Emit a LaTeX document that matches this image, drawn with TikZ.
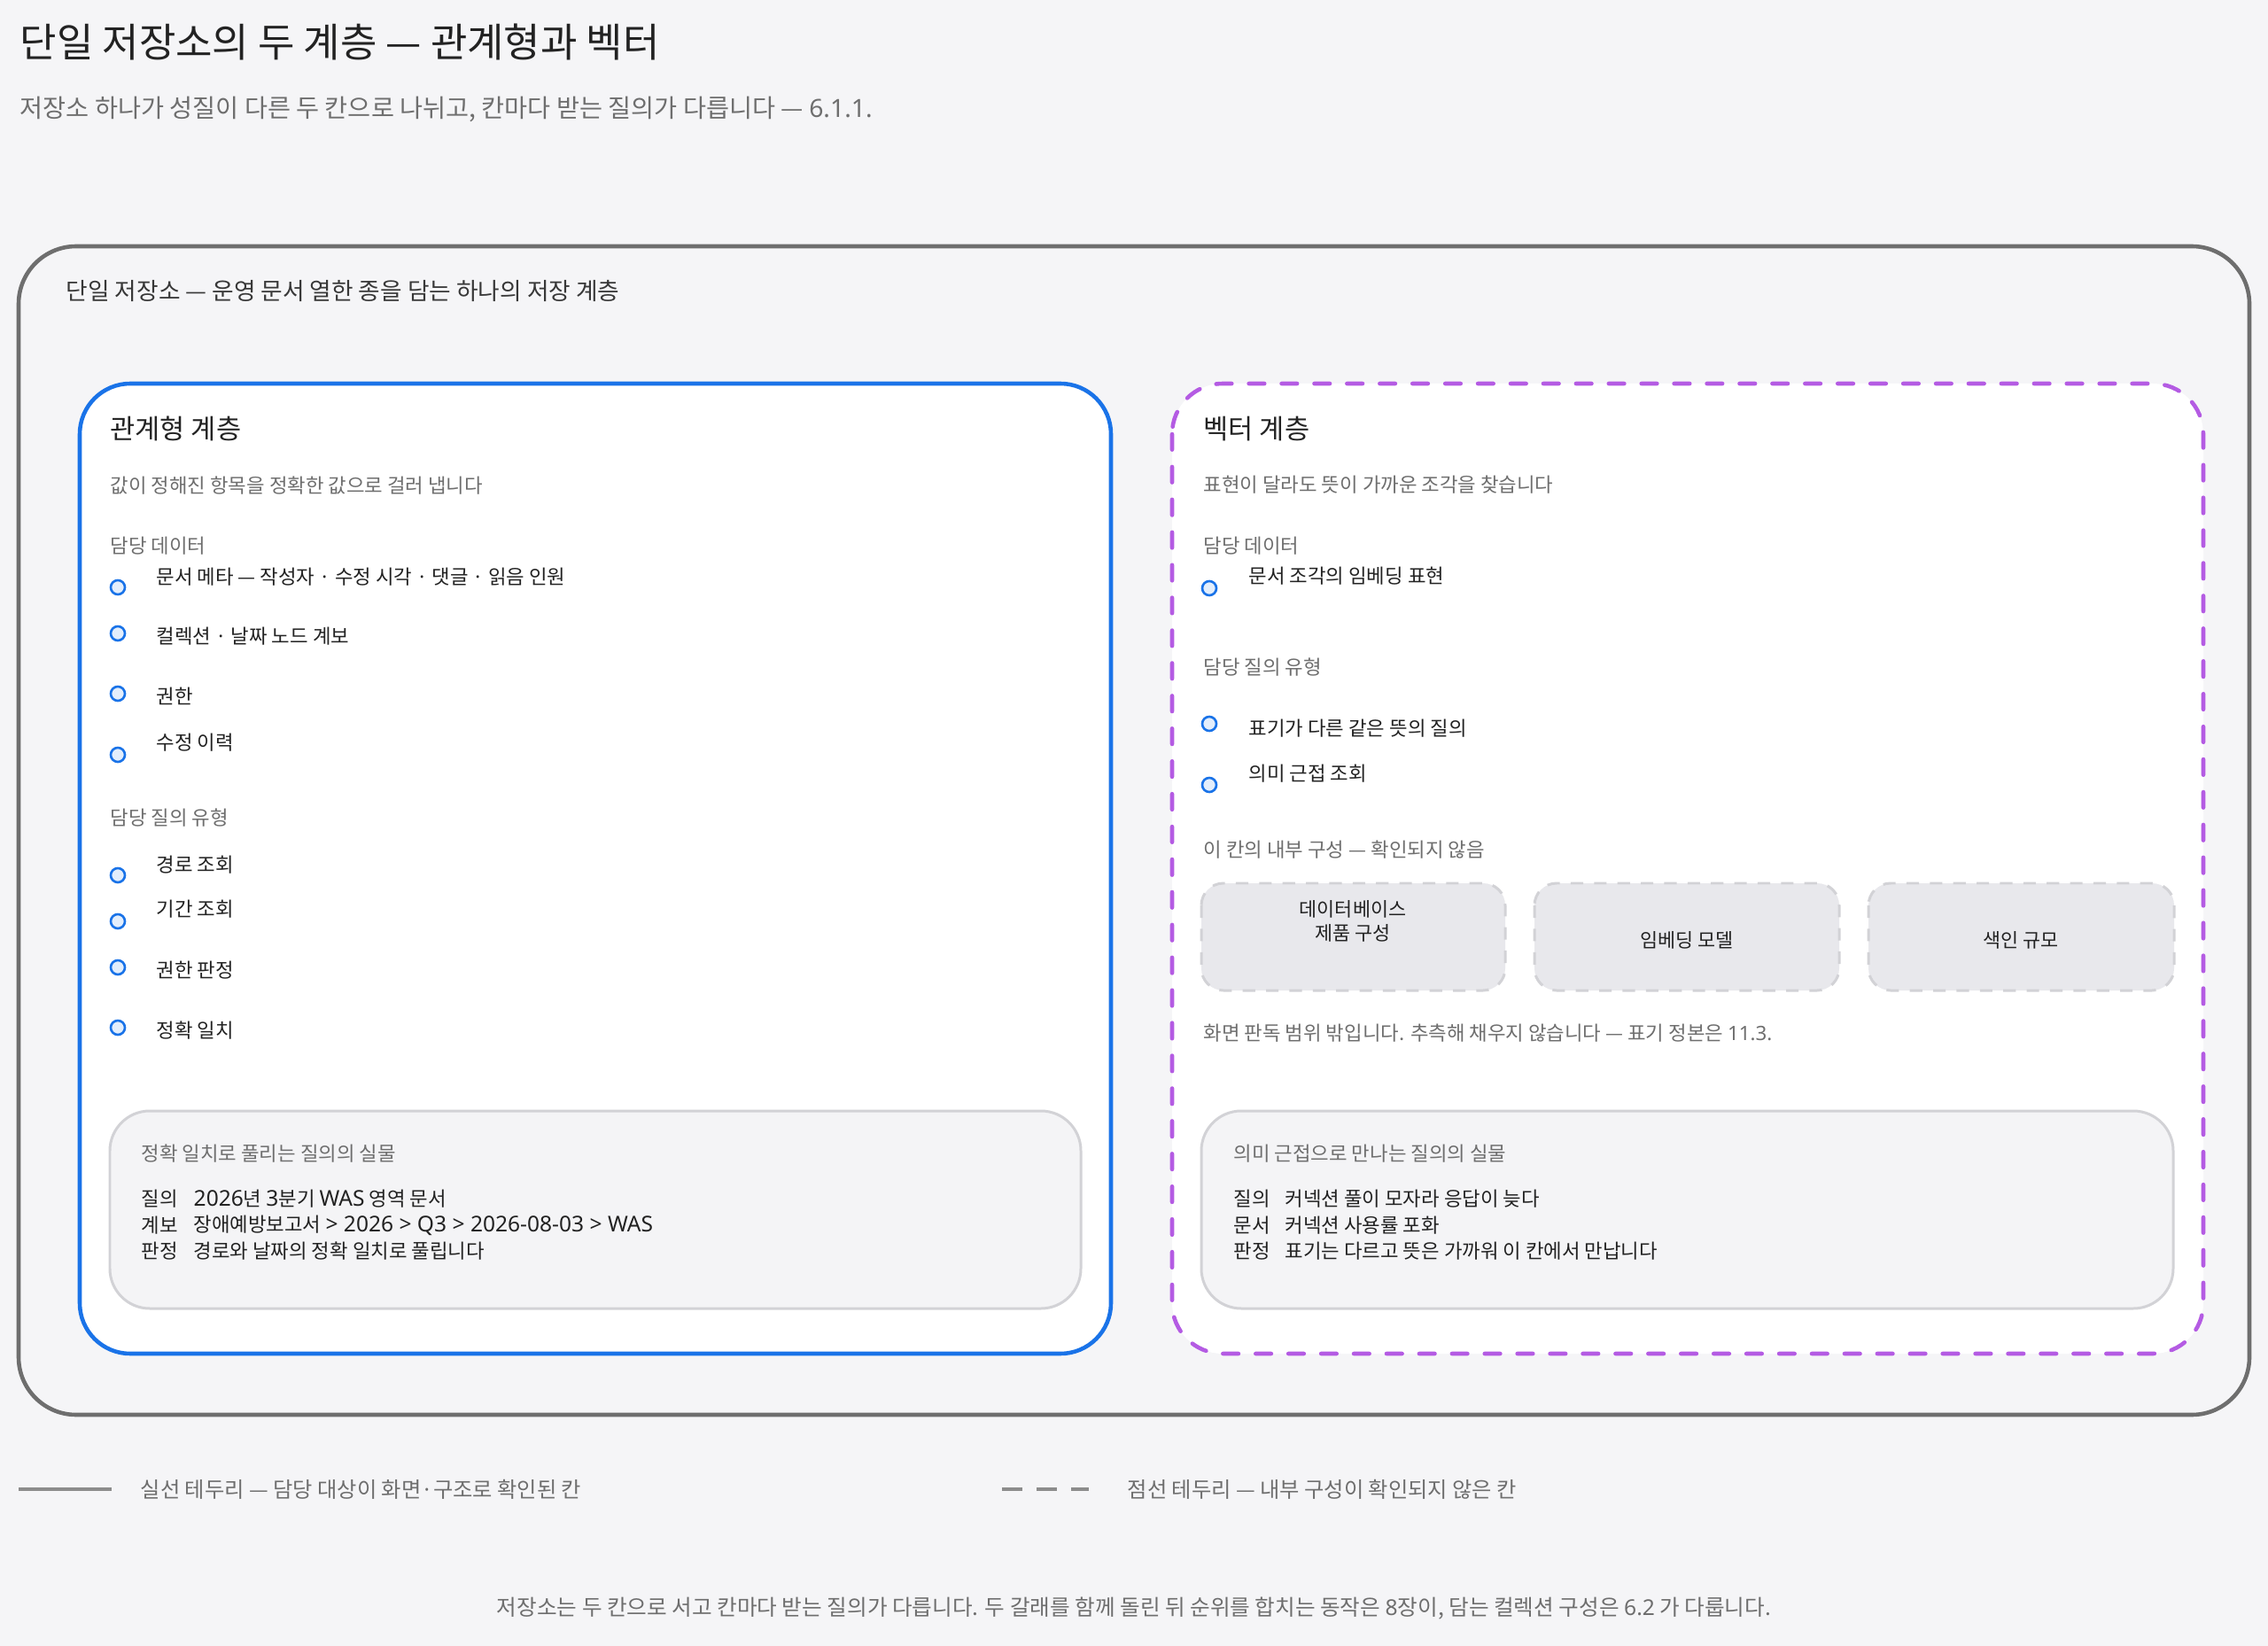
\documentclass[tikz,border=0pt]{standalone}
\usepackage{fontspec}
\setmainfont{Noto Sans CJK KR}
\newfontfamily\latinfont{Noto Sans}
\newfontfamily\latinwide[Scale=1.1]{Noto Sans}

\definecolor{pagebg}{HTML}{F5F5F7}
\definecolor{inkdark}{HTML}{222222}
\definecolor{inkgray}{HTML}{6E6E6E}
\definecolor{framegray}{HTML}{6E6E6E}
\definecolor{relblue}{HTML}{1A73E8}
\definecolor{dotfill}{HTML}{E3EEFC}
\definecolor{vecpurple}{HTML}{B45BE3}
\definecolor{cardfill}{HTML}{F4F4F6}
\definecolor{cardline}{HTML}{D2D2D6}
\definecolor{slotfill}{HTML}{E8E8EC}
\definecolor{legendgray}{HTML}{8C8C8C}

\begin{document}
\begin{tikzpicture}[x=0.01cm, y=-0.01cm,
    txt/.style={inner sep=0pt, anchor=west, text=inkdark},
    smallnote/.style={inner sep=0pt, anchor=west, text=inkgray, font=\fontsize{6.35}{7.5}\selectfont},
    item/.style={txt, font=\fontsize{6.35}{7.5}\selectfont},
    dot/.style={circle, draw=relblue, fill=dotfill, line width=0.75pt, minimum size=0.16cm, inner sep=0pt},
    card/.style={draw=cardline, fill=cardfill, line width=0.85pt, rounded corners=0.45cm},
    slot/.style={draw=cardline, fill=slotfill, line width=0.85pt, dash pattern=on 4pt off 3.5pt, rounded corners=0.25cm},
    slottext/.style={inner sep=0pt, align=center, text=inkdark, font=\fontsize{6.2}{7.7}\selectfont},
    legendtext/.style={inner sep=0pt, anchor=west, text=inkgray, font=\fontsize{6.9}{8.5}\selectfont}]

    \coordinate (page_top_left) at (0,0);
    \coordinate (page_bottom_right) at (2560,1858);
    \useasboundingbox (page_top_left) rectangle (page_bottom_right);
    \fill[pagebg] (page_top_left) rectangle (page_bottom_right);

    % Heading
    \node[txt, text=inkdark, font=\fontsize{12.8}{15}\selectfont] (title) at (22,47) {단일 저장소의 두 계층 — 관계형과 벡터};
    \node[txt, text=inkgray, font=\fontsize{8.05}{9.5}\selectfont] (subtitle) at (22,123) {저장소 하나가 성질이 다른 두 칸으로 나뉘고, 칸마다 받는 질의가 다릅니다 — {\latinfont 6.1.1.}};

    % Outer store
    \coordinate (store_top_left) at (21,278);
    \coordinate (store_bottom_right) at (2539,1597);
    \draw[framegray, line width=1.3pt, rounded corners=0.65cm] (store_top_left) rectangle (store_bottom_right);
    \node[txt, text=inkdark!90, font=\fontsize{7.6}{9}\selectfont] (store_label) at (74,328) {단일 저장소 — 운영 문서 열한 종을 담는 하나의 저장 계층};

    % Relational layer
    \coordinate (rel_top_left) at (90,433);
    \coordinate (rel_bottom_right) at (1254,1528);
    \draw[relblue, fill=white, line width=1.3pt, rounded corners=0.57cm] (rel_top_left) rectangle (rel_bottom_right);
    \node[txt, font=\fontsize{8.7}{10}\selectfont] (rel_title) at (124,484) {관계형 계층};
    \node[smallnote] (rel_sub) at (124,548) {값이 정해진 항목을 정확한 값으로 걸러 냅니다};
    \node[smallnote] (rel_data_head) at (124,616) {담당 데이터};
    \foreach \ty/\cy/\txt [count=\i] in {651/663/{문서 메타 — 작성자 · 수정 시각 · 댓글 · 읽음 인원}, 718/715/{컬렉션 · 날짜 노드 계보}, 786/783/{권한}, 838/852/{수정 이력}} {
        \node[dot] (rel_data_dot_\i) at (133,\cy) {};
        \node[item] (rel_data_\i) at (176,\ty) {\txt};
    }
    \node[smallnote] (rel_query_head) at (124,923) {담당 질의 유형};
    \foreach \ty/\cy/\txt [count=\i] in {976/988/{경로 조회}, 1026/1040/{기간 조회}, 1095/1092/{권한 판정}, 1163/1160/{정확 일치}} {
        \node[dot] (rel_query_dot_\i) at (133,\cy) {};
        \node[item] (rel_query_\i) at (176,\ty) {\txt};
    }
    \draw[card] (124,1254) rectangle (1220,1477);
    \node[smallnote] (rel_card_title) at (159,1302) {정확 일치로 풀리는 질의의 실물};
    \foreach \ty/\key/\val [count=\i] in {1353/질의/{{\latinwide 2026}년 {\latinwide 3}분기 {\latinwide WAS} 영역 문서}, 1383/계보/{장애예방보고서 {\latinwide > 2026 > Q3 > 2026-08-03 > WAS}}, 1412/판정/{경로와 날짜의 정확 일치로 풀립니다}} {
        \node[item] (rel_card_key_\i) at (159,\ty) {\key};
        \node[item] (rel_card_val_\i) at (218,\ty) {\val};
    }

    % Vector layer
    \coordinate (vec_top_left) at (1323,433);
    \coordinate (vec_bottom_right) at (2487,1528);
    \fill[white, rounded corners=0.57cm] (vec_top_left) rectangle (vec_bottom_right);
    \draw[vecpurple, line width=1.3pt, dash pattern=on 5pt off 5.5pt, line cap=round, rounded corners=0.57cm] (vec_top_left) rectangle (vec_bottom_right);
    \node[txt, font=\fontsize{8.7}{10}\selectfont] (vec_title) at (1358,484) {벡터 계층};
    \node[smallnote] (vec_sub) at (1358,547) {표현이 달라도 뜻이 가까운 조각을 찾습니다};
    \node[smallnote] (vec_data_head) at (1358,616) {담당 데이터};
    \node[dot] (vec_data_dot_1) at (1365,664) {};
    \node[item] (vec_data_1) at (1409,650) {문서 조각의 임베딩 표현};
    \node[smallnote] (vec_query_head) at (1358,753) {담당 질의 유형};
    \foreach \ty/\cy/\txt [count=\i] in {822/817/{표기가 다른 같은 뜻의 질의}, 873/886/{의미 근접 조회}} {
        \node[dot] (vec_query_dot_\i) at (1365,\cy) {};
        \node[item] (vec_query_\i) at (1409,\ty) {\txt};
    }
    \node[smallnote] (vec_inner_head) at (1358,959) {이 칸의 내부 구성 — 확인되지 않음};

    % Unconfirmed slots
    \draw[slot] (1356,997) rectangle (1699,1118);
    \draw[slot] (1732,997) rectangle (2076,1118);
    \draw[slot] (2109,997) rectangle (2454,1118);
    \node[slottext] (slot_db) at (1527,1040) {데이터베이스\\제품 구성};
    \node[slottext] (slot_model) at (1904,1061) {임베딩 모델};
    \node[slottext] (slot_index) at (2281,1061) {색인 규모};
    \node[smallnote] (vec_inner_note) at (1358,1166) {화면 판독 범위 밖입니다. 추측해 채우지 않습니다 — 표기 정본은 {\latinfont 11.3.}};

    \draw[card] (1356,1254) rectangle (2453,1477);
    \node[smallnote] (vec_card_title) at (1392,1302) {의미 근접으로 만나는 질의의 실물};
    \foreach \ty/\key/\val [count=\i] in {1353/질의/{커넥션 풀이 모자라 응답이 늦다}, 1383/문서/{커넥션 사용률 포화}, 1412/판정/{표기는 다르고 뜻은 가까워 이 칸에서 만납니다}} {
        \node[item] (vec_card_key_\i) at (1392,\ty) {\key};
        \node[item] (vec_card_val_\i) at (1450,\ty) {\val};
    }

    % Legend
    \coordinate (solid_from) at (21,1681);
    \coordinate (solid_to) at (126,1681);
    \coordinate (dash_from) at (1131,1681);
    \coordinate (dash_to) at (1229,1681);
    \draw[legendgray, line width=1pt] (solid_from) -- (solid_to);
    \draw[legendgray, line width=1pt, dash pattern=on 6.5pt off 4.6pt] (dash_from) -- (dash_to);
    \node[legendtext] (legend_solid) at (158,1681) {실선 테두리 — 담당 대상이 화면·구조로 확인된 칸};
    \node[legendtext] (legend_dashed) at (1272,1681) {점선 테두리 — 내부 구성이 확인되지 않은 칸};

    \node[inner sep=0pt, text=inkgray, font=\fontsize{7}{8.5}\selectfont] (footer) at (1280,1816) {저장소는 두 칸으로 서고 칸마다 받는 질의가 다릅니다. 두 갈래를 함께 돌린 뒤 순위를 합치는 동작은 {\latinfont 8}장이, 담는 컬렉션 구성은 {\latinfont 6.2} 가 다룹니다.};
\end{tikzpicture}
\end{document}
